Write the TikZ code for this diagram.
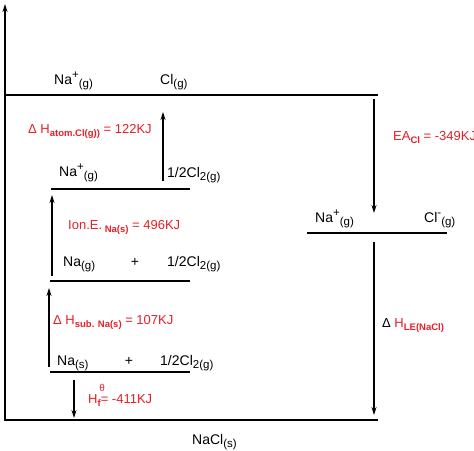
\documentclass[tikz,border=0pt]{standalone}
\usepackage{fontspec}
\setmainfont{Liberation Sans}
\usetikzlibrary{arrows.meta}
\definecolor{lred}{RGB}{232,30,38}
\newcommand\lo[1]{\raisebox{-3.5pt}{\fontsize{11.5}{11.5}\selectfont #1}}
\newcommand\hi[1]{\raisebox{6pt}{\fontsize{11.5}{11.5}\selectfont #1}}
\newcommand\blo[1]{\raisebox{-3.5pt}{\fontsize{9.5}{9.5}\selectfont\bfseries #1}}
\begin{document}
\begin{tikzpicture}[x=1pt,y=-1pt,
  lvl/.style={line width=1.2pt},
  arr/.style={line width=1.1pt,-{Stealth[length=8pt,width=5pt]}},
  lbl/.style={font=\fontsize{14}{16}\selectfont, inner sep=0pt, anchor=base west},
  rlbl/.style={lbl, font=\fontsize{13}{15}\selectfont, text=lred}]
\useasboundingbox (0,0) rectangle (474,450);
% axis
\coordinate (ax0) at (5,421); \coordinate (ax1) at (5,4);
\draw[arr] (ax0) -- (ax1);
% levels
\coordinate (t1) at (5,95);   \coordinate (t2) at (378,95);
\coordinate (a1) at (51,189); \coordinate (a2) at (190,189);
\coordinate (b1) at (50,281); \coordinate (b2) at (190,281);
\coordinate (c1) at (50,372); \coordinate (c2) at (190,372);
\coordinate (r1) at (307,233);\coordinate (r2) at (447,233);
\coordinate (z1) at (5,420);  \coordinate (z2) at (378,420);
\foreach \p/\q in {t1/t2,a1/a2,b1/b2,c1/c2,r1/r2,z1/z2} \draw[lvl] (\p) -- (\q);
% arrows
\coordinate (atS) at (163,181); \coordinate (atE) at (163,112);
\coordinate (ioS) at (52,276);  \coordinate (ioE) at (52,195);
\coordinate (suS) at (49,367);  \coordinate (suE) at (49,288);
\coordinate (hfS) at (74,380);  \coordinate (hfE) at (74,418);
\coordinate (eaS) at (374,99);  \coordinate (eaE) at (374,213);
\coordinate (leS) at (374,242); \coordinate (leE) at (374,415);
\foreach \p/\q in {atS/atE,ioS/ioE,suS/suE,hfS/hfE,eaS/eaE,leS/leE} \draw[arr] (\p) -- (\q);
% black labels
\node[lbl] (n1) at (54,84) {Na\hi{+}\lo{(g)}};
\node[lbl] (n2) at (160,84) {Cl\lo{(g)}};
\node[lbl] (n3) at (59,176) {Na\hi{+}\lo{(g)}};
\node[lbl] (n4) at (167,177) {1/2Cl\lo{2(g)}};
\node[lbl] (n5) at (63,266) {Na\lo{(g)}};
\node[lbl,anchor=base] (n6) at (135,266) {+};
\node[lbl] (n7) at (167,266) {1/2Cl\lo{2(g)}};
\node[lbl] (n8) at (57,365) {Na\lo{(s)}};
\node[lbl,anchor=base] (n9) at (129,365) {+};
\node[lbl] (n10) at (160,365) {1/2Cl\lo{2(g)}};
\node[lbl] (n11) at (315,222) {Na\hi{+}\lo{(g)}};
\node[lbl] (n12) at (424,222) {Cl\hi{-}\lo{(g)}};
\node[lbl] (n13) at (192,444) {NaCl\lo{(s)}};
% red labels
\node[rlbl] (e1) at (28,133) {Δ H\blo{atom.Cl(g))} = 122KJ};
\node[rlbl] (e2) at (68,229) {Ion.E.\blo{ Na(s)} = 496KJ};
\node[rlbl] (e3) at (53,324) {Δ H\blo{sub. Na(s)} = 107KJ};
\node[rlbl] (e4) at (88,403) {H\rlap{\raisebox{12pt}{\fontsize{10}{10}\selectfont\,θ}}\blo{f}= -411KJ};
\node[rlbl] (e5) at (393,140) {EA\blo{Cl} = -349KJ};
\node[lbl,font=\fontsize{13}{15}\selectfont] (e6) at (382,327) {Δ \textcolor{lred}{H\blo{LE(NaCl)}}};
\end{tikzpicture}
\end{document}
